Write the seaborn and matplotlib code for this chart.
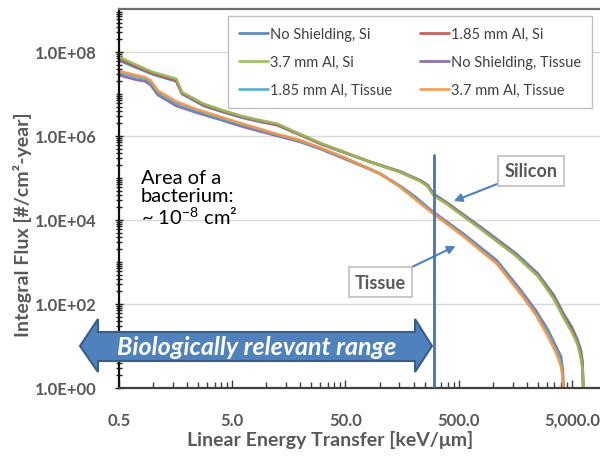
import matplotlib
matplotlib.use("Agg")
import matplotlib.pyplot as plt
import numpy as np
import pandas as pd
import seaborn as sns
from matplotlib.patches import Polygon

# ---------------- data ----------------
series_names = ["No Shielding, Si", "1.85 mm Al, Si", "3.7 mm Al, Si",
                "No Shielding, Tissue", "1.85 mm Al, Tissue", "3.7 mm Al, Tissue"]
series_colors = ["#4F81BD", "#C0504D", "#9BBB59", "#8064A2", "#4BACC6", "#F79646"]

let_si = [0.5, 0.7, 1.0, 1.6, 1.8, 2.8, 4.0, 6.0, 8.0, 12.5, 20, 30, 50, 83, 150,
          230, 266, 300, 400, 800, 1600, 2500, 3470, 4200, 5000, 5600, 6000, 6200, 6300]
flux_ns_si = [6.3e7, 4.3e7, 2.9e7, 2.0e7, 1.0e7, 5.2e6, 3.8e6, 2.75e6, 2.3e6, 1.8e6,
              1.05e6, 6.5e5, 3.9e5, 2.4e5, 1.45e5, 8.7e4, 6.8e4, 4.2e4, 2.5e4, 6.5e3,
              1.6e3, 5.3e2, 1.6e2, 60, 28, 14, 8.0, 4.2, 0.9]
flux_185_si = [6.9e7, 4.6e7, 3.1e7, 2.1e7, 1.05e7, 5.5e6, 4.0e6, 2.9e6, 2.4e6, 1.85e6,
               1.07e6, 6.6e5, 4.0e5, 2.4e5, 1.4e5, 8.5e4, 6.5e4, 4.0e4, 2.4e4, 6.0e3,
               1.45e3, 4.8e2, 1.4e2, 52, 24, 12, 6.2, 3.2, 0.95]
flux_37_si = [7.6e7, 5.0e7, 3.3e7, 2.3e7, 1.1e7, 5.8e6, 4.2e6, 3.0e6, 2.5e6, 1.95e6,
              1.1e6, 6.8e5, 4.0e5, 2.4e5, 1.4e5, 8.3e4, 6.3e4, 3.8e4, 2.3e4, 5.8e3,
              1.4e3, 4.6e2, 1.3e2, 48, 21, 11, 5.0, 2.8, 1.0]

let_tissue = [0.5, 0.7, 0.85, 0.95, 1.1, 1.6, 2.5, 4.0, 6.0, 12.5, 20, 30, 50, 83,
              101, 151, 200, 285, 555, 1090, 1770, 2400, 3070, 3600, 4000, 4150, 4200]
flux_ns_tissue = [2.8e7, 2.2e7, 2.0e7, 1.65e7, 9.5e6, 5.2e6, 3.5e6, 2.4e6, 1.7e6, 1.0e6,
                  7.2e5, 4.9e5, 2.8e5, 1.6e5, 1.26e5, 6.5e4, 3.8e4, 1.7e4, 4.6e3, 1.07e3,
                  2.1e2, 70, 24, 10, 5.6, 2.6, 0.9]
flux_185_tissue = [3.2e7, 2.6e7, 2.3e7, 1.9e7, 1.1e7, 6.0e6, 3.9e6, 2.6e6, 1.9e6, 1.07e6,
                   7.6e5, 5.1e5, 2.9e5, 1.6e5, 1.26e5, 6.3e4, 3.6e4, 1.6e4, 4.3e3, 9.8e2,
                   1.9e2, 62, 21, 8.5, 4.5, 2.1, 0.95]
flux_37_tissue = [3.5e7, 2.8e7, 2.5e7, 2.1e7, 1.2e7, 6.6e6, 4.2e6, 2.8e6, 2.0e6, 1.1e6,
                  7.9e5, 5.2e5, 3.0e5, 1.6e5, 1.26e5, 6.2e4, 3.3e4, 1.55e4, 4.0e3, 8.9e2,
                  1.7e2, 55, 17, 7.0, 3.3, 1.8, 1.0]

x_tick_values = [0.5, 5, 50, 500, 5000]
x_tick_labels = ["0.5", "5.0", "50.0", "500.0", "5,000.0"]
y_tick_values = [1, 1e2, 1e4, 1e6, 1e8]
y_tick_labels = ["1.0E+00", "1.0E+02", "1.0E+04", "1.0E+06", "1.0E+08"]

cutoff_let = 300
cutoff_top = 3.5e5

# ---------------- build table ----------------
series_data = [
    (series_names[0], let_si, flux_ns_si),
    (series_names[1], let_si, flux_185_si),
    (series_names[2], let_si, flux_37_si),
    (series_names[3], let_tissue, flux_ns_tissue),
    (series_names[4], let_tissue, flux_185_tissue),
    (series_names[5], let_tissue, flux_37_tissue),
]
rows = []
for name, xs, ys in series_data:
    for i, (xv, yv) in enumerate(zip(xs, ys)):
        rows.append({"series": name, "LET": xv, "flux": yv, "order": i})
df = pd.DataFrame(rows)

# ---------------- style ----------------
sns.set_theme(style="white")
plt.rcParams["font.family"] = ["Lato", "DejaVu Sans"]
gray = "#595959"

fig = plt.figure(figsize=(6, 4.6), dpi=100)
W, H = 600, 460
ax = fig.add_axes([119 / W, 1 - 389 / H, (600 - 119) / W, (389 - 10) / H])

sns.lineplot(data=df, x="LET", y="flux", hue="series", hue_order=series_names,
             palette=series_colors, estimator=None, sort=False, lw=2.0,
             alpha=0.9, ax=ax, legend=True)
ax.set_xscale("log")
ax.set_yscale("log")

# ticks
ax.set_xticks(x_tick_values, x_tick_labels)
x_minor = [0.5 * k * 10 ** n for n in range(4) for k in range(2, 10)]
ax.set_xticks(x_minor, minor=True)
ax.set_xticklabels([], minor=True)
ax.set_yticks(y_tick_values, y_tick_labels)
y_minor = [k * 10 ** n for n in range(9) for k in range(1, 10) if not (k == 1 and n % 2 == 0)]
ax.set_yticks(y_minor, minor=True)
ax.set_yticklabels([], minor=True)
ax.set_xlim(0.5, 8850)
ax.set_ylim(1, 1.05e9)

ax.tick_params(axis="x", which="major", direction="in", length=6, width=1, color="#404040",
               pad=17, labelsize=12, labelcolor=gray)
ax.tick_params(axis="x", which="minor", direction="in", length=4, width=1, color="#404040")
ax.tick_params(axis="y", which="major", direction="inout", length=6, width=1, color="#202020",
               pad=13, labelsize=12, labelcolor=gray)
ax.tick_params(axis="y", which="minor", direction="inout", length=4, width=1, color="#202020")
ax.tick_params(bottom=True, left=True, which="both")
for lab in ax.get_xticklabels() + ax.get_yticklabels():
    lab.set_fontweight("bold")

ax.grid(axis="y", which="major", color="#D9D9D9", lw=1)
ax.set_axisbelow(True)
ax.spines["left"].set_color("#111111")
ax.spines["left"].set_linewidth(1.6)
ax.spines["bottom"].set_color("#404040")
ax.spines["bottom"].set_linewidth(1.6)
ax.spines["top"].set_color("#6f6f6f")
ax.spines["top"].set_linewidth(1.6)
ax.spines["right"].set_visible(False)
ax.set_xlabel("")
ax.set_ylabel("")

# cut-off line
ax.plot([cutoff_let, cutoff_let], [1, cutoff_top], color="#4472C4", lw=2, zorder=5)

# legend
handles, labels = ax.get_legend_handles_labels()
ax.get_legend().remove()
order = [0, 2, 4, 1, 3, 5]
leg = fig.legend([handles[i] for i in order], [labels[i] for i in order], ncol=2,
                 loc="upper left", bbox_to_anchor=(228 / W, 1 - 107 / H, 364 / W, 90 / H),
                 mode="expand", frameon=True, fancybox=False, framealpha=1,
                 edgecolor="#BFBFBF", fontsize=10.5, handlelength=2.0, handletextpad=0.15,
                 labelspacing=0.95, borderpad=0.75, columnspacing=1.0, borderaxespad=0)
for t in leg.get_texts():
    t.set_color("#404040")
leg.get_frame().set_linewidth(1.0)

# axis titles
fig.text(330 / W, 1 - 440 / H, "Linear Energy Transfer [keV/\u03bcm]", ha="center", va="center",
         fontsize=14, fontweight="bold", color=gray)
fig.text(23 / W, 1 - 225 / H, "Integral Flux [#/cm\u00b2-year]", ha="center", va="center",
         rotation=90, fontsize=14, fontweight="bold", color=gray)

# bacterium annotation
fig.text(141 / W, 1 - 170 / H, "Area of a\nbacterium:\n~ 10$^{\\mathregular{-8}}$ cm\u00b2",
         ha="left", va="top", fontsize=14.5, color="black", linespacing=1.05)

# double arrow
pts_px = [(80, 347), (98, 320), (98, 333), (415, 333), (415, 320), (432, 347),
          (415, 373), (415, 362), (98, 362), (98, 373)]
arrow = Polygon([(px / W, 1 - py / H) for px, py in pts_px], closed=True,
                transform=fig.transFigure, facecolor="#4F81BD", edgecolor="#385D8A",
                lw=1.5, zorder=10)
fig.patches.append(arrow)
fig.text(257 / W, 1 - 348 / H, "Biologically relevant range", ha="center", va="center",
         fontsize=18, fontweight="bold", fontstyle="italic", color="white", zorder=11)

# group callouts
box = dict(boxstyle="square,pad=0.35", fc="white", ec="#BFBFBF", lw=1.2)
ax.annotate("Silicon", xy=(452, 10 ** 4.45), xytext=(2170, 10 ** 5.17), textcoords="data",
            ha="center", va="center", fontsize=13, fontweight="bold", color=gray, bbox=box,
            arrowprops=dict(arrowstyle="-|>", color="#4F81BD", lw=1.5, mutation_scale=12,
                            shrinkA=0, shrinkB=0))
ax.annotate("Tissue", xy=(470, 10 ** 3.38), xytext=(102, 10 ** 2.52), textcoords="data",
            ha="center", va="center", fontsize=13, fontweight="bold", color=gray, bbox=box,
            arrowprops=dict(arrowstyle="-|>", color="#4F81BD", lw=1.5, mutation_scale=12,
                            shrinkA=0, shrinkB=0))

fig.savefig("out.png", dpi=100)
